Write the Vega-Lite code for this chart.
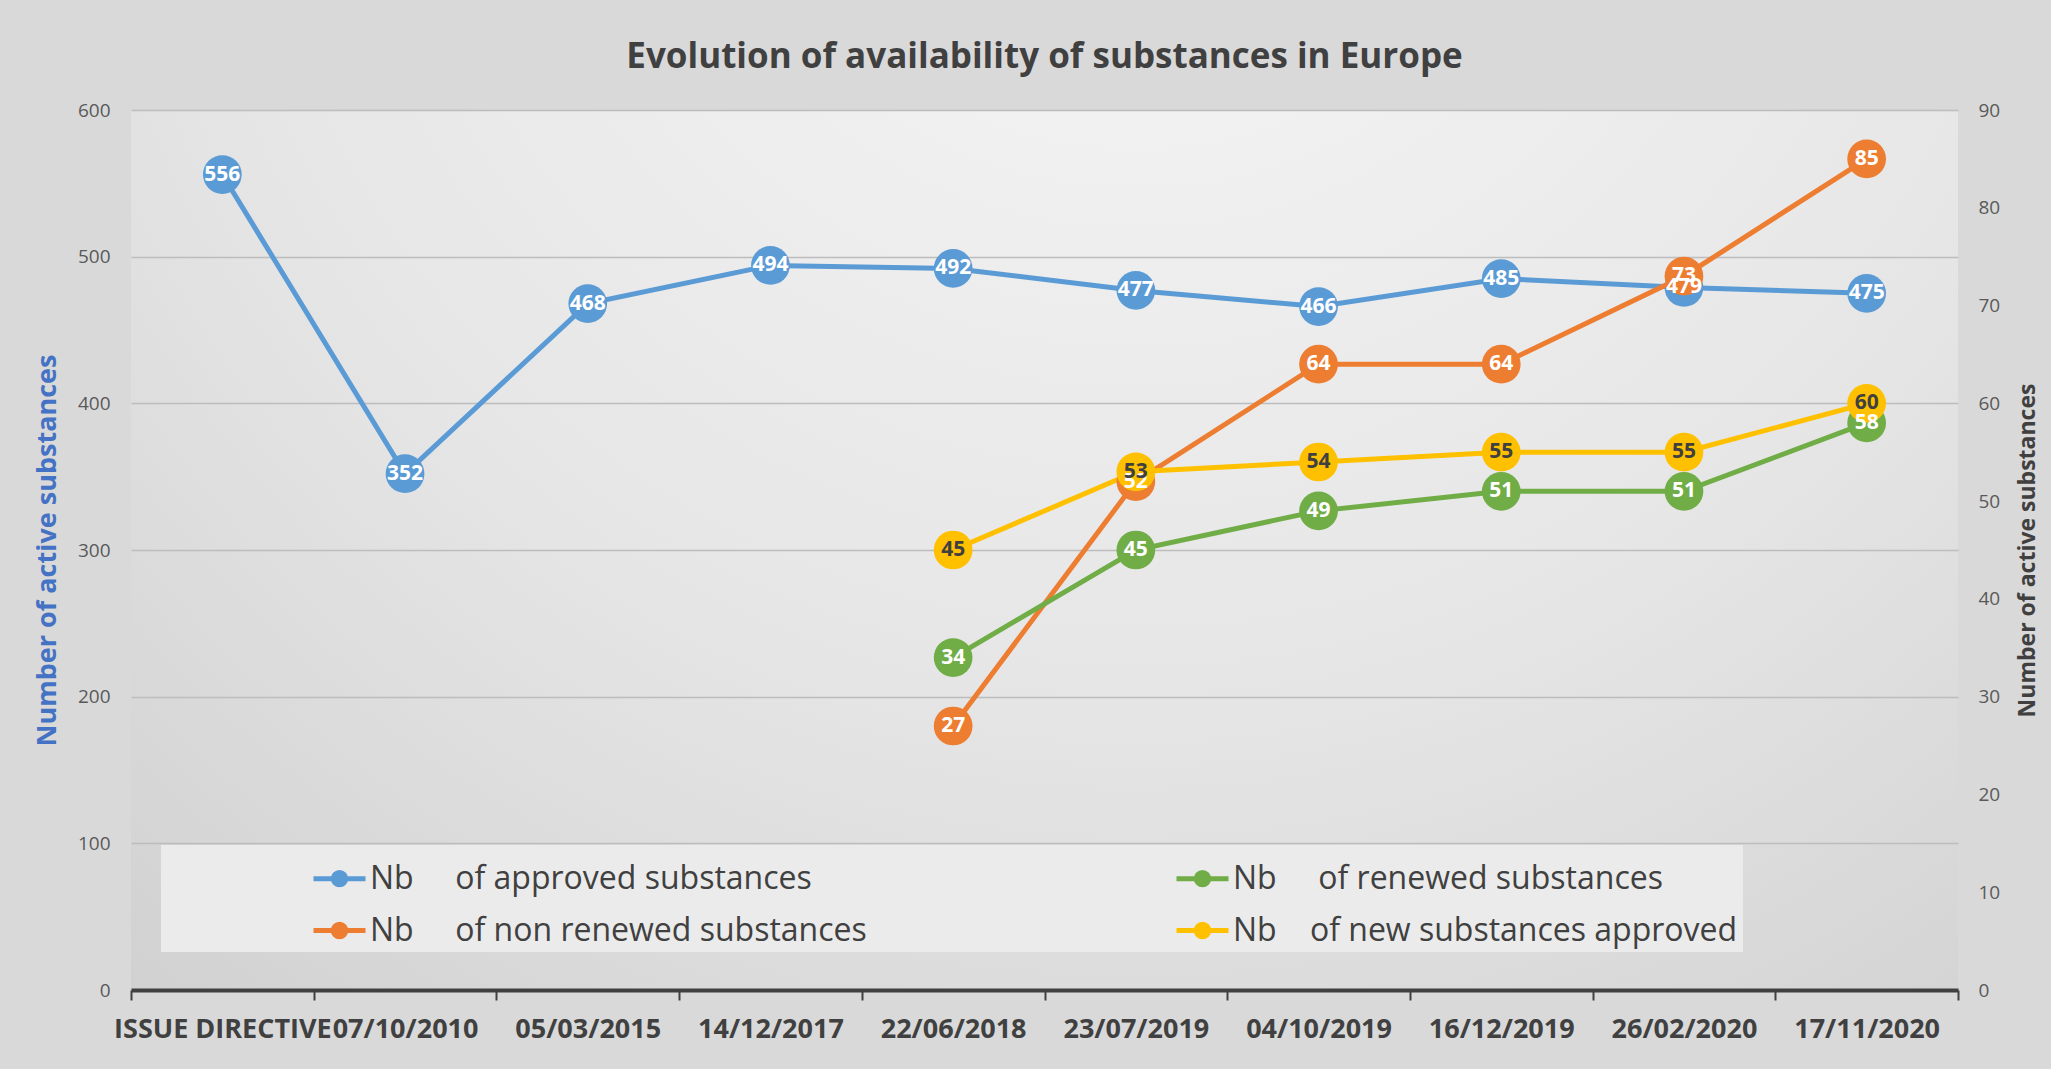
{
  "$schema": "https://vega.github.io/schema/vega-lite/v6.json",
  "autosize": {"type": "none"},
  "width": 1827,
  "height": 880,
  "padding": {"left": 131, "top": 110, "right": 93, "bottom": 79},
  "background": "#d9d9d9",
  "title": {
    "text": "Evolution of availability of substances in Europe",
    "font": "Open Sans",
    "fontSize": 35,
    "fontWeight": "bold",
    "color": "#404040",
    "anchor": "middle",
    "frame": "group",
    "offset": 26
  },
  "config": {
    "view": {
      "stroke": null,
      "fill": {
        "gradient": "radial",
        "x1": 0.55, "y1": 0.05, "r1": 0,
        "x2": 0.55, "y2": 0.05, "r2": 0.95,
        "stops": [
          {"offset": 0, "color": "#f8f8f8"},
          {"offset": 0.55, "color": "#e6e6e6"},
          {"offset": 1, "color": "#cdcdcd"}
        ]
      }
    },
    "legend": {
      "orient": "none",
      "legendX": 30,
      "legendY": 735,
      "columns": 2,
      "gridAlign": "all",
      "columnPadding": 154,
      "rowPadding": 7,
      "padding": 5,
      "fillColor": "#ebebeb",
      "symbolOffset": 145,
      "symbolSize": 2704,
      "symbolStrokeWidth": 5,
      "symbolType": "M-1,0H1M-0.24,0A0.24,0.24,0,1,0,0.24,0A0.24,0.24,0,1,0,-0.24,0Z",
      "labelFont": "Open Sans",
      "labelFontSize": 32,
      "labelColor": "#404040",
      "labelLimit": 0,
      "labelOffset": 2
    }
  },
  "datasets": {
    "approved": [
      {"date": "ISSUE DIRECTIVE", "series": "Nb\u00a0\u00a0\u00a0\u00a0 of approved substances", "value": 556},
      {"date": "07/10/2010", "series": "Nb\u00a0\u00a0\u00a0\u00a0 of approved substances", "value": 352},
      {"date": "05/03/2015", "series": "Nb\u00a0\u00a0\u00a0\u00a0 of approved substances", "value": 468},
      {"date": "14/12/2017", "series": "Nb\u00a0\u00a0\u00a0\u00a0 of approved substances", "value": 494},
      {"date": "22/06/2018", "series": "Nb\u00a0\u00a0\u00a0\u00a0 of approved substances", "value": 492},
      {"date": "23/07/2019", "series": "Nb\u00a0\u00a0\u00a0\u00a0 of approved substances", "value": 477},
      {"date": "04/10/2019", "series": "Nb\u00a0\u00a0\u00a0\u00a0 of approved substances", "value": 466},
      {"date": "16/12/2019", "series": "Nb\u00a0\u00a0\u00a0\u00a0 of approved substances", "value": 485},
      {"date": "26/02/2020", "series": "Nb\u00a0\u00a0\u00a0\u00a0 of approved substances", "value": 479},
      {"date": "17/11/2020", "series": "Nb\u00a0\u00a0\u00a0\u00a0 of approved substances", "value": 475}
    ],
    "others": [
      {"date": "22/06/2018", "series": "Nb\u00a0\u00a0\u00a0\u00a0 of non renewed substances", "value": 27},
      {"date": "23/07/2019", "series": "Nb\u00a0\u00a0\u00a0\u00a0 of non renewed substances", "value": 52},
      {"date": "04/10/2019", "series": "Nb\u00a0\u00a0\u00a0\u00a0 of non renewed substances", "value": 64},
      {"date": "16/12/2019", "series": "Nb\u00a0\u00a0\u00a0\u00a0 of non renewed substances", "value": 64},
      {"date": "26/02/2020", "series": "Nb\u00a0\u00a0\u00a0\u00a0 of non renewed substances", "value": 73},
      {"date": "17/11/2020", "series": "Nb\u00a0\u00a0\u00a0\u00a0 of non renewed substances", "value": 85},
      {"date": "22/06/2018", "series": "Nb\u00a0\u00a0\u00a0\u00a0 of renewed substances", "value": 34},
      {"date": "23/07/2019", "series": "Nb\u00a0\u00a0\u00a0\u00a0 of renewed substances", "value": 45},
      {"date": "04/10/2019", "series": "Nb\u00a0\u00a0\u00a0\u00a0 of renewed substances", "value": 49},
      {"date": "16/12/2019", "series": "Nb\u00a0\u00a0\u00a0\u00a0 of renewed substances", "value": 51},
      {"date": "26/02/2020", "series": "Nb\u00a0\u00a0\u00a0\u00a0 of renewed substances", "value": 51},
      {"date": "17/11/2020", "series": "Nb\u00a0\u00a0\u00a0\u00a0 of renewed substances", "value": 58},
      {"date": "22/06/2018", "series": "Nb\u00a0\u00a0\u00a0 of new substances approved", "value": 45},
      {"date": "23/07/2019", "series": "Nb\u00a0\u00a0\u00a0 of new substances approved", "value": 53},
      {"date": "04/10/2019", "series": "Nb\u00a0\u00a0\u00a0 of new substances approved", "value": 54},
      {"date": "16/12/2019", "series": "Nb\u00a0\u00a0\u00a0 of new substances approved", "value": 55},
      {"date": "26/02/2020", "series": "Nb\u00a0\u00a0\u00a0 of new substances approved", "value": 55},
      {"date": "17/11/2020", "series": "Nb\u00a0\u00a0\u00a0 of new substances approved", "value": 60}
    ]
  },
  "encoding": {
    "x": {
      "field": "date",
      "type": "nominal",
      "bandPosition": 0.5,
      "scale": {
        "type": "band",
        "domain": ["ISSUE DIRECTIVE", "07/10/2010", "05/03/2015", "14/12/2017", "22/06/2018", "23/07/2019", "04/10/2019", "16/12/2019", "26/02/2020", "17/11/2020"],
        "paddingInner": 0,
        "paddingOuter": 0
      },
      "axis": {
        "title": null,
        "labelAngle": 0,
        "labelFont": "Open Sans",
        "labelFontWeight": "bold",
        "labelFontSize": 27,
        "labelColor": "#404040",
        "labelLimit": 400,
        "labelPadding": 16,
        "labelOverlap": false,
        "domainColor": "#404040",
        "domainWidth": 4,
        "tickColor": "#404040",
        "tickWidth": 2,
        "tickSize": 10,
        "tickBand": "extent",
        "grid": false
      }
    }
  },
  "layer": [
    {
      "data": {"name": "approved"},
      "encoding": {
        "y": {
          "field": "value",
          "type": "quantitative",
          "scale": {"domain": [0, 600], "nice": false, "zero": true},
          "axis": {
            "orient": "left",
            "values": [0, 100, 200, 300, 400, 500, 600],
            "domain": false,
            "ticks": false,
            "grid": true,
            "gridColor": "#bdbdbd",
            "gridWidth": 1.5,
            "labelFont": "Open Sans",
            "labelFontSize": 19,
            "labelColor": "#595959",
            "labelPadding": 21,
            "title": "Number of active substances",
            "titleFont": "Open Sans",
            "titleFontSize": 27,
            "titleFontWeight": "bold",
            "titleColor": "#4472C4",
            "titlePadding": 16
          }
        },
        "color": {
          "field": "series",
          "type": "nominal",
          "scale": {
            "domain": [
              "Nb\u00a0\u00a0\u00a0\u00a0 of approved substances",
              "Nb\u00a0\u00a0\u00a0\u00a0 of non renewed substances",
              "Nb\u00a0\u00a0\u00a0\u00a0 of renewed substances",
              "Nb\u00a0\u00a0\u00a0 of new substances approved"
            ],
            "range": ["#5B9BD5", "#ED7D31", "#70AD47", "#FFC000"]
          },
          "legend": {
            "title": null,
            "encode": {
              "symbols": {
                "update": {
                  "fill": {"scale": "color", "field": "value"},
                  "stroke": {"scale": "color", "field": "value"},
                  "strokeWidth": {"value": 5},
                  "opacity": {"value": 1}
                }
              }
            }
          }
        }
      },
      "layer": [
        {"mark": {"type": "line", "strokeWidth": 5}},
        {"mark": {"type": "point", "filled": true, "size": 1500, "opacity": 1}}
      ]
    },
    {
      "data": {"name": "others"},
      "encoding": {
        "y": {
          "field": "value",
          "type": "quantitative",
          "scale": {"domain": [0, 90], "nice": false, "zero": true},
          "axis": {
            "orient": "right",
            "values": [0, 10, 20, 30, 40, 50, 60, 70, 80, 90],
            "domain": false,
            "ticks": false,
            "grid": false,
            "labelFont": "Open Sans",
            "labelFontSize": 19,
            "labelColor": "#595959",
            "labelPadding": 20,
            "title": "Number of active substances",
            "titleFont": "Open Sans",
            "titleFontSize": 23,
            "titleFontWeight": "bold",
            "titleColor": "#404040",
            "titleAngle": 270,
            "titlePadding": 40
          }
        },
        "color": {"field": "series", "type": "nominal"}
      },
      "layer": [
        {"mark": {"type": "line", "strokeWidth": 5}},
        {"mark": {"type": "point", "filled": true, "size": 1500, "opacity": 1}}
      ]
    },
    {
      "data": {"name": "approved"},
      "mark": {"type": "text", "font": "Open Sans", "fontWeight": "bold", "fontSize": 21, "align": "center", "baseline": "middle", "color": "white"},
      "encoding": {
        "y": {"field": "value", "type": "quantitative", "scale": {"domain": [0, 600], "nice": false}, "axis": null},
        "text": {"field": "value", "type": "quantitative"}
      }
    },
    {
      "data": {"name": "others"},
      "mark": {"type": "text", "font": "Open Sans", "fontWeight": "bold", "fontSize": 21, "align": "center", "baseline": "middle"},
      "encoding": {
        "y": {"field": "value", "type": "quantitative", "scale": {"domain": [0, 90], "nice": false}, "axis": null},
        "text": {"field": "value", "type": "quantitative"},
        "color": {
          "condition": {"test": {"field": "series", "equal": "Nb\u00a0\u00a0\u00a0 of new substances approved"}, "value": "#404040"},
          "value": "white"
        }
      }
    }
  ],
  "resolve": {"scale": {"y": "independent"}}
}
